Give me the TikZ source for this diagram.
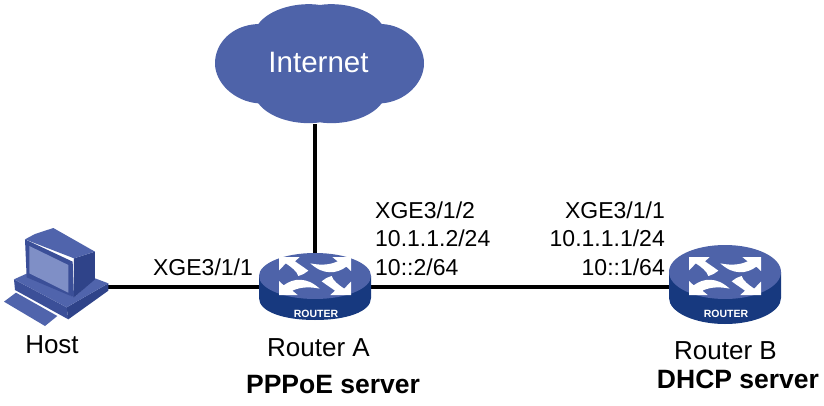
\documentclass[tikz,border=0pt]{standalone}
\usepackage{fontspec}
\setmainfont{Liberation Sans}
\definecolor{blueTop}{HTML}{4E63A9}
\definecolor{blueSide}{HTML}{17397F}
\definecolor{hostA}{HTML}{5064AC}
\definecolor{hostB}{HTML}{3B4F98}
\definecolor{hostC}{HTML}{2F4389}
\definecolor{hostS}{HTML}{7F8FC6}
\tikzset{
  portlbl/.style={inner sep=0pt,font=\fontsize{23}{28.5}\selectfont,text=black},
  lbl/.style={inner sep=0pt,font=\fontsize{26}{30}\selectfont,text=black},
  boldlbl/.style={inner sep=0pt,font=\fontsize{26.5}{30}\selectfont\bfseries,text=black},
  wire/.style={draw=black,line width=4pt},
  routerbox/.style={inner sep=0pt,minimum width=112pt,minimum height=68pt,shape=rectangle},
  arrowpart/.style={fill=white,draw=none},
  pics/routericon/.style n args={3}{code={
    \fill[blueSide] (-56,#1) -- (-56,22) .. controls (-56,36) and (-31,#3) .. (0,#3) .. controls (31,#3) and (56,36) .. (56,22) -- (56,#1) -- cycle;
    \fill[blueTop] (0,#1) ellipse [x radius=56,y radius=#2];
    \begin{scope}[scale=1/3]
      \foreach \r in {0,180}{
        \begin{scope}[rotate=\r]
          \fill[arrowpart] (-108,-57) -- (-46,-57) -- (-60,-44) .. controls (-46,-34) and (-32,-25) .. (-20,-16) .. controls (-28,-8) and (-38,-4) .. (-50,0) .. controls (-54,-14) and (-72,-28) .. (-88,-38) -- (-97,-28) -- (-108,-17) -- cycle;
          \fill[arrowpart] (108,-57) -- (108,-15) -- (94,-28) .. controls (65,-6) and (25,-2) .. (-14,-38) .. controls (10,-33) and (40,-31) .. (68,-44) -- (52,-57) -- cycle;
        \end{scope}
      }
    \end{scope}
    \node[inner sep=0pt,text=white,font=\fontsize{10.5}{12}\selectfont\bfseries] (-label) at (1,38) {ROUTER};
  }}
}
\begin{document}
\begin{tikzpicture}[x=1pt,y=-1pt]
\useasboundingbox (0,0) rectangle (824,406);
\fill[white] (0,0) rectangle (824,406);
% anchors
\node[minimum width=100pt,minimum height=100pt,inner sep=0pt] (host) at (58,270) {};
\node[routerbox] (ra) at (315,287) {};
\node[routerbox] (rb) at (725,285) {};
\node[minimum width=209pt,minimum height=120pt,inner sep=0pt] (inet) at (319.5,64) {};
% connectors
\draw[wire] (host.east |- ra.west) -- (ra.west);
\draw[wire] (ra.east) -- (rb.west |- ra.east);
\draw[wire] (inet.south -| ra.north) -- (ra.north);
% cloud
\begin{scope}[shift={(205,0)},scale=1/3]
  \fill[blueTop] (345,15) .. controls (280,5) and (195,25) .. (160,72)
    .. controls (80,75) and (30,130) .. (30,190)
    .. controls (30,250) and (90,305) .. (160,310)
    .. controls (195,357) and (280,377) .. (345,367)
    .. controls (410,377) and (495,357) .. (530,310)
    .. controls (600,305) and (657,250) .. (657,190)
    .. controls (657,130) and (600,75) .. (530,72)
    .. controls (495,25) and (410,5) .. (345,15) -- cycle;
\end{scope}
\node[inner sep=0pt,text=white,font=\fontsize{29.5}{32}\selectfont] (inettext) at (318.5,62) {Internet};
% routers
\pic (ricona) at (315,276) {routericon={0}{23}{44}};
\pic (riconb) at (725,276) {routericon={-4}{27}{48}};
% host
\begin{scope}[shift={(0,220)},scale=1/3]
  \fill[hostA] (12,245) -- (48,218) -- (172,288) -- (135,318) -- cycle;
  \fill[hostB] (42,178) -- (200,262) -- (205,298) -- (45,210) -- cycle;
  \fill[hostC] (200,262) -- (325,190) -- (325,212) -- (205,298) -- cycle;
  \fill[hostA] (42,178) -- (82,160) -- (222,232) -- (285,175) -- (325,190) -- (200,262) -- cycle;
  \fill[hostC] (222,115) -- (285,95) -- (285,178) -- (222,232) -- cycle;
  \fill[hostA] (75,58) -- (105,42) -- (160,24) -- (285,95) -- (222,115) -- cycle;
  \fill[hostB] (75,58) -- (218,125) -- (222,232) -- (80,172) -- cycle;
  \fill[hostS] (88,78) -- (205,135) -- (205,218) -- (88,160) -- cycle;
\end{scope}
% labels
\node[lbl] (hostlbl) at (52,345) {Host};
\node[lbl] (ralbl) at (318.5,348) {Router A};
\node[boldlbl] (rarole) at (333,385) {PPPoE server};
\node[lbl] (rblbl) at (725.5,351) {Router B};
\node[boldlbl] (rbrole) at (738,379) {DHCP server};
\node[portlbl] (hostport) at (203,267) {XGE3/1/1};
\node[portlbl,align=left,anchor=west] (aport) at (375,238.5) {XGE3/1/2\\10.1.1.2/24\\10::2/64};
\node[portlbl,align=right,anchor=east] (bport) at (665,238.5) {XGE3/1/1\\10.1.1.1/24\\10::1/64};
\end{tikzpicture}
\end{document}
